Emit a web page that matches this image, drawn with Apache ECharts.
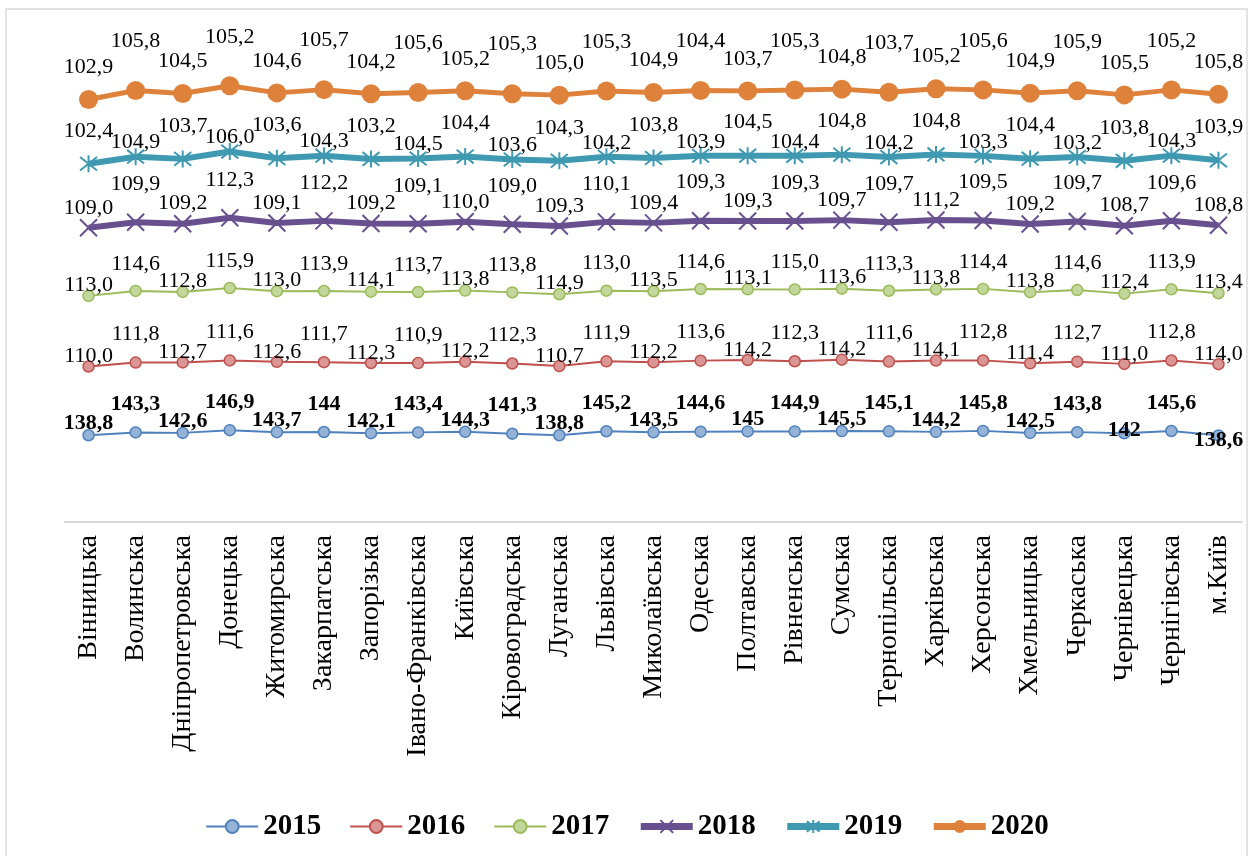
<!DOCTYPE html>
<html>
<head>
<meta charset="utf-8">
<script src="https://cdn.jsdelivr.net/npm/echarts@6.0.0/dist/echarts.min.js"></script>
<style>
  html, body { margin: 0; padding: 0; background: #fff; }
  #frame { position: absolute; left: 5px; top: 8px; width: 1243px; height: 860px; border: 2px solid #e3e3e3; box-sizing: border-box; }
  #chart { position: absolute; left: 0; top: 0; width: 1254px; height: 856px; }
</style>
</head>
<body>
<div id="frame"></div>
<div id="chart"></div>
<script>
// області
const regions = ['Вінницька', 'Волинська', 'Дніпропетровська', 'Донецька', 'Житомирська', 'Закарпатська',
  'Запорізька', 'Івано-Франківська', 'Київська', 'Кіровоградська', 'Луганська', 'Львівська',
  'Миколаївська', 'Одеська', 'Полтавська', 'Рівненська', 'Сумська', 'Тернопільська', 'Харківська',
  'Херсонська', 'Хмельницька', 'Черкаська', 'Чернівецька', 'Чернігівська', 'м.Київ']

const years = ['2015', '2016', '2017', '2018', '2019', '2020']

const v2015 = [138.8, 143.3, 142.6, 146.9, 143.7, 144, 142.1, 143.4, 144.3, 141.3, 138.8, 145.2, 143.5,
  144.6, 145, 144.9, 145.5, 145.1, 144.2, 145.8, 142.5, 143.8, 142, 145.6, 138.6]
const v2016 = [110.0, 111.8, 112.7, 111.6, 112.6, 111.7, 112.3, 110.9, 112.2, 112.3, 110.7, 111.9, 112.2,
  113.6, 114.2, 112.3, 114.2, 111.6, 114.1, 112.8, 111.4, 112.7, 111.0, 112.8, 114.0]
const v2017 = [113.0, 114.6, 112.8, 115.9, 113.0, 113.9, 114.1, 113.7, 113.8, 113.8, 114.9, 113.0, 113.5,
  114.6, 113.1, 115.0, 113.6, 113.3, 113.8, 114.4, 113.8, 114.6, 112.4, 113.9, 113.4]
const v2018 = [109.0, 109.9, 109.2, 112.3, 109.1, 112.2, 109.2, 109.1, 110.0, 109.0, 109.3, 110.1, 109.4,
  109.3, 109.3, 109.3, 109.7, 109.7, 111.2, 109.5, 109.2, 109.7, 108.7, 109.6, 108.8]
const v2019 = [102.4, 104.9, 103.7, 106.0, 103.6, 104.3, 103.2, 104.5, 104.4, 103.6, 104.3, 104.2, 103.8,
  103.9, 104.5, 104.4, 104.8, 104.2, 104.8, 103.3, 104.4, 103.2, 103.8, 104.3, 103.9]
const v2020 = [102.9, 105.8, 104.5, 105.2, 104.6, 105.7, 104.2, 105.6, 105.2, 105.3, 105.0, 105.3, 104.9,
  104.4, 103.7, 105.3, 104.8, 103.7, 105.2, 105.6, 104.9, 105.9, 105.5, 105.2, 105.8]

const FONT = "'Liberation Serif', 'Times New Roman', serif"
const X_MARK = 'path://M0,0L10,10M10,0L0,10'
const STAR_MARK = 'path://M1,1L9,9M9,1L1,9M5,0L5,10'

// зміщення підписів над маркером: [парні, непарні]
function labelled(values, even, odd, fix) {
  return values.map((v, i) => {
    const dy = fix && fix[i] !== undefined ? fix[i] : (i % 2 ? odd : even)
    return { value: v, label: { offset: [0, -dy] } }
  })
}

const comma = v => String(v).replace('.', ',')
const comma1 = v => v.toFixed(1).replace('.', ',')

function makeSeries(name, values, o) {
  return {
    name: name,
    type: 'line',
    stack: 'total',
    data: labelled(values, o.even, o.odd, o.fix),
    symbol: o.symbol,
    symbolSize: o.size,
    showSymbol: true,
    lineStyle: { color: o.line, width: o.width },
    itemStyle: { color: o.fill, borderColor: o.line, borderWidth: o.border },
    label: {
      show: true,
      position: 'inside',
      fontFamily: FONT,
      fontSize: 22,
      fontWeight: o.bold ? 'bold' : 'normal',
      color: '#000',
      formatter: p => o.bold ? comma(p.value) : comma1(p.value)
    },
    z: o.z
  }
}

const thin = { width: 2 }
const thick = { width: 7 }

const chart = echarts.init(document.getElementById('chart'))
chart.setOption({
  animation: false,
  grid: { left: 65, right: 12, top: 22, bottom: 334 },
  legend: {
    bottom: 10,
    left: 'center',
    itemWidth: 52,
    itemHeight: 16,
    itemGap: 28,
    textStyle: { fontFamily: FONT, fontSize: 29, fontWeight: 'bold', color: '#000' },
    data: [
      { name: '2015', lineStyle: thin },
      { name: '2016', lineStyle: thin },
      { name: '2017', lineStyle: thin },
      { name: '2018', lineStyle: thick },
      { name: '2019', lineStyle: thick },
      { name: '2020', lineStyle: thick }
    ]
  },
  xAxis: {
    type: 'category',
    data: regions,
    boundaryGap: true,
    axisLine: { lineStyle: { color: '#d9d9d9', width: 2 } },
    axisTick: { show: false },
    axisLabel: { rotate: 90, interval: 0, margin: 13, fontFamily: FONT, fontSize: 28, color: '#000' }
  },
  yAxis: { type: 'value', min: 0, max: 800, show: false, splitLine: { show: false } },
  series: [
    makeSeries('2015', v2015, { symbol: 'circle', size: 11, line: '#4F81BD', fill: '#95B3D7', width: 2, border: 1.5, bold: true, even: 12, odd: 28, fix: { 22: 3, 24: -5 }, z: 2 }),
    makeSeries('2016', v2016, { symbol: 'circle', size: 11, line: '#C0504D', fill: '#D99694', width: 2, border: 1.5, even: 10, odd: 28, z: 2 }),
    makeSeries('2017', v2017, { symbol: 'circle', size: 11, line: '#9BBB59', fill: '#C3D69B', width: 2, border: 1.5, even: 11, odd: 27, z: 2 }),
    makeSeries('2018', v2018, { symbol: X_MARK, size: 17, line: '#68508F', fill: 'rgba(0,0,0,0)', width: 6, border: 2, even: 20, odd: 38, z: 3 }),
    makeSeries('2019', v2019, { symbol: STAR_MARK, size: 17, line: '#3F99B1', fill: 'rgba(0,0,0,0)', width: 6, border: 2, even: 33, odd: 14, z: 3 }),
    makeSeries('2020', v2020, { symbol: 'circle', size: 19, line: '#DE823B', fill: '#DE823B', width: 5, border: 0, even: 32, odd: 49, z: 3 })
  ]
})
</script>
</body>
</html>
